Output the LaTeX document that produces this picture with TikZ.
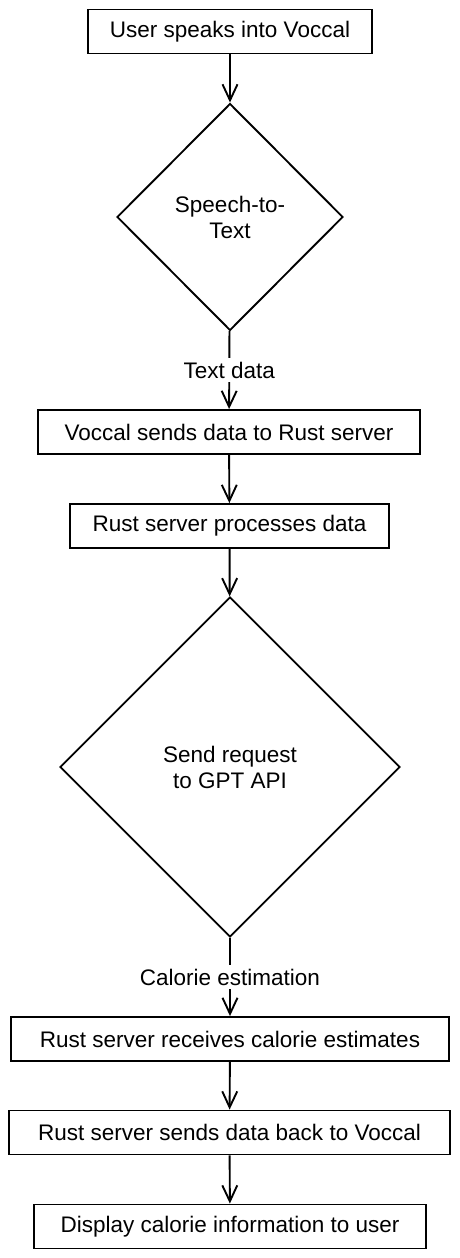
\documentclass[tikz,border=0pt]{standalone}
\usepackage{fontspec}
\setmainfont{Liberation Sans}
\usetikzlibrary{shapes.geometric}
\usetikzlibrary{arrows.meta}

\tikzset{
	stepbox/.style = {draw, line width=1.9pt, minimum height=44pt, inner sep=0pt},
	choice/.style = {draw, diamond, line width=1.9pt, align=center, inner sep=0pt},
	flow/.style = {line width=1.9pt, -{Straight Barb[length=16pt, width=15pt, line width=1.9pt]}},
	tag/.style = {fill=white, inner sep=4pt}
}

\begin{document}
\begin{tikzpicture}[x=1pt, y=-1pt, font=\fontsize{22.5}{26}\selectfont]
		\useasboundingbox (0,0) rectangle (460,1258);
		\node[stepbox, minimum width=284pt] (speak) at (230,31.5) {User speaks into Voccal};
		\node[choice, minimum width=226pt, minimum height=227pt] (stt) at (230,217) {Speech-to-\\Text};
		\node[stepbox, minimum width=382pt] (send) at (229,432) {Voccal sends data to Rust server};
		\node[stepbox, minimum width=319pt] (proc) at (229.5,526) {Rust server processes data};
		\node[choice, minimum width=340pt, minimum height=340pt] (gpt) at (230,767) {Send request\\ to GPT API};
		\node[stepbox, minimum width=438pt] (recv) at (230,1039) {Rust server receives calorie estimates};
		\node[stepbox, minimum width=441pt] (back) at (229.5,1132.5) {Rust server sends data back to Voccal};
		\node[stepbox, minimum width=392pt] (show) at (230,1226.5) {Display calorie information to user};
		\draw[flow] (speak) -- (stt);
		\draw[flow] (stt) -- node[tag] (txt) {Text data} (send);
		\draw[flow] (send) -- (proc);
		\draw[flow] (proc) -- (gpt);
		\draw[flow] (gpt) -- node[tag] (cal) {Calorie estimation} (recv);
		\draw[flow] (recv) -- (back);
		\draw[flow] (back) -- (show);
	\end{tikzpicture}
\end{document}
